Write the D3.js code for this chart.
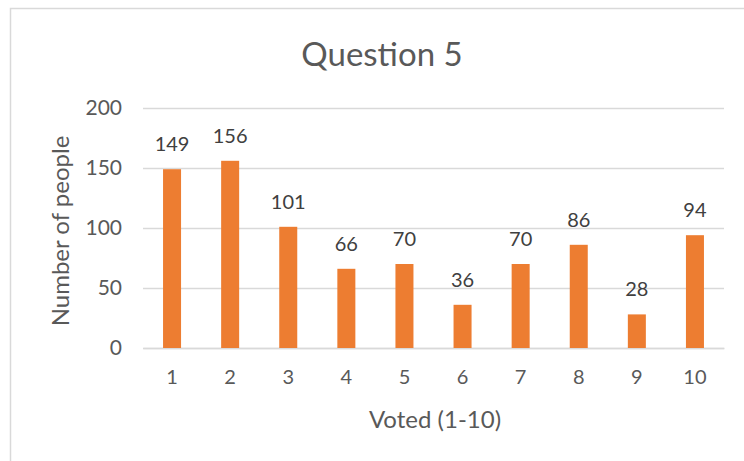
<!DOCTYPE html>
<html>
<head>
<meta charset="utf-8">
<script src="https://cdn.jsdelivr.net/npm/d3@7"></script>
<style>
  body { margin: 0; background: #fff; }
  text { font-family: Lato, "Open Sans", sans-serif; }
</style>
</head>
<body>
<script>
// chart data
var votes = ["1", "2", "3", "4", "5", "6", "7", "8", "9", "10"];
var counts = [149, 156, 101, 66, 70, 36, 70, 86, 28, 94];
var yTicks = [0, 50, 100, 150, 200];

var svgWidth = 744;
var svgHeight = 461;

var margin = { top: 108, right: 20, bottom: 113, left: 143 };
var chartWidth = 724 - margin.left;
var chartHeight = 348 - margin.top;

var svg = d3.select("body")
  .append("svg")
  .attr("width", svgWidth)
  .attr("height", svgHeight);

// outer border of chart area
svg.append("rect")
  .attr("x", 10.5)
  .attr("y", 8.5)
  .attr("width", 760)
  .attr("height", 470)
  .attr("fill", "none")
  .attr("stroke", "#d9d9d9")
  .attr("stroke-width", 1.5);

var chartGroup = svg.append("g")
  .attr("transform", `translate(${margin.left}, ${margin.top})`);

var xScale = d3.scaleBand()
  .domain(votes)
  .range([0, chartWidth])
  .paddingInner(0.69)
  .paddingOuter(0.345);

var yScale = d3.scaleLinear()
  .domain([0, 200])
  .range([chartHeight, 0]);

// gridlines
var leftAxis = d3.axisLeft(yScale)
  .tickValues(yTicks)
  .tickSize(-chartWidth)
  .tickPadding(21);

var yAxisG = chartGroup.append("g").call(leftAxis);
yAxisG.select(".domain").remove();
yAxisG.selectAll(".tick line").attr("stroke", "#d9d9d9").attr("stroke-width", 1.3);
yAxisG.selectAll(".tick text")
  .attr("font-size", "21px")
  .attr("fill", "#595959")
  .style("font-family", "Lato, sans-serif");

// bottom axis
var bottomAxis = d3.axisBottom(xScale).tickSize(0).tickPadding(22);
var xAxisG = chartGroup.append("g")
  .attr("transform", `translate(0, ${chartHeight})`)
  .call(bottomAxis);
xAxisG.select(".domain").attr("stroke", "#d9d9d9").attr("stroke-width", 1.3);
xAxisG.selectAll(".tick text")
  .attr("font-size", "20px")
  .attr("fill", "#595959")
  .style("font-family", "Lato, sans-serif");

// bars
chartGroup.selectAll(".bar")
  .data(counts)
  .enter()
  .append("rect")
  .attr("class", "bar")
  .attr("x", (d, i) => xScale(votes[i]))
  .attr("y", d => yScale(d))
  .attr("width", xScale.bandwidth())
  .attr("height", d => chartHeight - yScale(d))
  .attr("fill", "#ed7d31");

// data labels
chartGroup.selectAll(".lbl")
  .data(counts)
  .enter()
  .append("text")
  .attr("class", "lbl")
  .attr("x", (d, i) => xScale(votes[i]) + xScale.bandwidth() / 2)
  .attr("y", d => yScale(d) - 18)
  .attr("text-anchor", "middle")
  .attr("font-size", "20px")
  .attr("fill", "#404040")
  .text(d => d);

// title
svg.append("text")
  .attr("x", 382)
  .attr("y", 66)
  .attr("text-anchor", "middle")
  .attr("font-size", "33px")
  .attr("fill", "#595959")
  .text("Question 5");

// x axis title
svg.append("text")
  .attr("x", 435)
  .attr("y", 428)
  .attr("text-anchor", "middle")
  .attr("font-size", "24px")
  .attr("fill", "#595959")
  .text("Voted (1-10)");

// y axis title
svg.append("text")
  .attr("transform", "translate(69, 231) rotate(-90)")
  .attr("text-anchor", "middle")
  .attr("font-size", "24px")
  .attr("fill", "#595959")
  .text("Number of people");
</script>
</body>
</html>
